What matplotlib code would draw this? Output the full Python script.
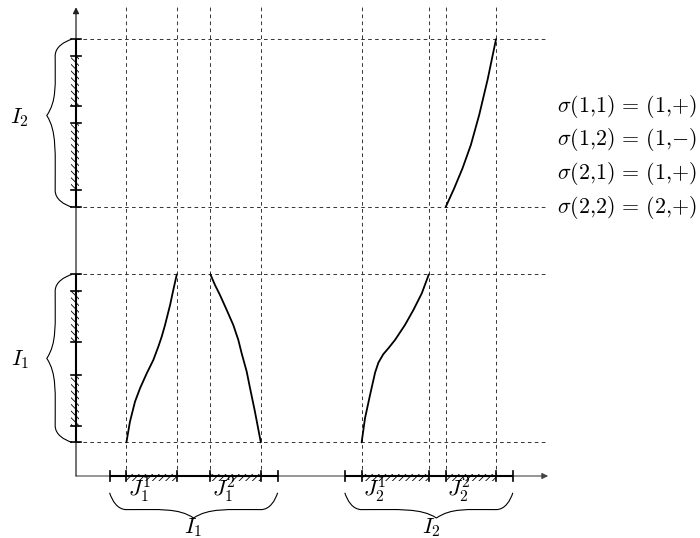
import matplotlib
matplotlib.use("Agg")
import matplotlib.pyplot as plt
from matplotlib.path import Path
from matplotlib.patches import PathPatch, Rectangle, FancyArrowPatch

plt.rcParams['mathtext.fontset'] = 'cm'
plt.rcParams['hatch.linewidth'] = 0.6
plt.rcParams['lines.scale_dashes'] = False

# ---- data ----
big_intervals = [(2, 12), (16, 26)]               # I_1, I_2
big_labels = [r'$I_1$', r'$I_2$']
brace_tip = [7.0, 21.45]                          # where the brace points
sub_intervals = [(3, 6), (8, 11), (17, 21), (22, 25)]   # J_1^1, J_1^2, J_2^1, J_2^2
sub_labels = [r'$J_1^1$', r'$J_1^2$', r'$J_2^1$', r'$J_2^2$']

c11_x = [3.0, 3.21, 3.51, 3.81, 4.21, 4.60, 4.90, 5.10, 5.30, 5.60, 5.79, 6.0]
c11_y = [2.0, 3.23, 4.42, 5.22, 6.11, 6.90, 7.70, 8.29, 8.99, 10.18, 11.07, 12.0]
c12_x = [8.0, 8.27, 8.57, 8.97, 9.36, 9.66, 9.86, 10.16, 10.36, 10.65, 11.0]
c12_y = [12.0, 11.37, 10.77, 9.88, 8.99, 8.10, 7.30, 6.21, 5.22, 3.83, 2.0]
c21_x = [17.0, 17.20, 17.50, 17.80, 18.0, 18.29, 18.59, 18.99, 19.58, 20.08, 20.58, 21.0]
c21_y = [2.0, 3.43, 4.82, 6.15, 6.75, 7.25, 7.60, 8.10, 8.99, 9.88, 10.87, 12.0]
c22_x = [22.0, 22.5, 23.0, 23.5, 24.0, 24.5, 25.0]
c22_y = [16.0, 17.1, 18.3, 19.7, 21.5, 23.6, 26.0]

sigma_labels = [r'$\sigma(1{,}1)\,=\,(1{,}{+})$', r'$\sigma(1{,}2)\,=\,(1{,}{-})$',
                r'$\sigma(2{,}1)\,=\,(1{,}{+})$', r'$\sigma(2{,}2)\,=\,(2{,}{+})$']
sigma_y = [22, 20, 18, 16]

# ---- figure ----
fig = plt.figure(figsize=(7.0, 5.38), dpi=100)
ax = fig.add_axes([0, 0, 1, 1])
ax.set_xlim(-4.524, 37.14)
ax.set_ylim(-3.69, 28.33)
ax.axis('off')

dash = (0, (2.6, 2.4))
dcol = '#333333'

# dashed grid
for (a, b) in sub_intervals:
    for x in (a, b):
        ax.plot([x, x], [0, 27.9], ls=dash, color=dcol, lw=0.7, zorder=1)
for (a, b) in big_intervals:
    for y in (a, b):
        ax.plot([0, 27.9], [y, y], ls=dash, color=dcol, lw=0.7, zorder=1)

# axes
ax.add_patch(FancyArrowPatch((0, 0), (28.1, 0), arrowstyle='-|>', mutation_scale=9,
                             color='#444444', lw=0.8, shrinkA=0, shrinkB=0, zorder=3))
ax.add_patch(FancyArrowPatch((0, 0), (0, 27.9), arrowstyle='-|>', mutation_scale=9,
                             color='#222222', lw=0.9, shrinkA=0, shrinkB=0, zorder=3))

for (a, b) in big_intervals:
    ax.plot([a, b], [0, 0], color='black', lw=1.5, zorder=4, solid_capstyle='butt')
    ax.plot([0, 0], [a, b], color='black', lw=1.5, zorder=4, solid_capstyle='butt')

# hatched sub-intervals
for (a, b) in sub_intervals:
    ax.add_patch(Rectangle((a, -0.28), b - a, 0.42, fill=False, hatch='/////',
                           edgecolor='black', lw=0, zorder=3))
    ax.add_patch(Rectangle((-0.3, a), 0.5, b - a, fill=False, hatch='\\\\\\\\\\',
                           edgecolor='black', lw=0, zorder=3))

# ticks
ticks = sorted({v for iv in big_intervals + sub_intervals for v in iv})
for t in ticks:
    ax.plot([t, t], [-0.3, 0.3], color='black', lw=1.2, zorder=5)
    ax.plot([-0.3, 0.3], [t, t], color='black', lw=1.2, zorder=5)

# curves
for xs, ys in [(c11_x, c11_y), (c12_x, c12_y), (c21_x, c21_y), (c22_x, c22_y)]:
    ax.plot(xs, ys, color='black', lw=1.3, zorder=6, solid_capstyle='round',
            solid_joinstyle='round')


def brace_path(L, m, h=1.0, D=1.5, bend=1.0):
    pts = [(0, 0), (0.15, 0.45), (0.45, h), (bend, h),
           ((bend + m) / 2, h), (m - 0.9, 0.9), (m, D),
           (m + 0.9, 0.9), ((L - bend + m) / 2, h), (L - bend, h),
           (L - 0.45, h), (L - 0.15, 0.45), (L, 0)]
    codes = [Path.MOVETO] + [Path.CURVE4] * 12
    return pts, codes


for (a, b), tip, lab in zip(big_intervals, brace_tip, big_labels):
    L = b - a
    pts, codes = brace_path(L, tip - a)
    # bottom brace
    bp = [(a + u, -1.0 - v) for (u, v) in pts]
    ax.add_patch(PathPatch(Path(bp, codes), fill=False, lw=0.8, color='black'))
    # left brace
    lp = [(-0.24 - v, a + u) for (u, v) in pts]
    ax.add_patch(PathPatch(Path(lp, codes), fill=False, lw=0.8, color='black'))
    ax.text((a + b) / 2 + (tip - (a + b) / 2) * 0.3, -3.1, lab, fontsize=16,
            ha='center', va='center')
    ax.text(-3.35, tip - 0.1, lab, fontsize=16, ha='center', va='center')

for (a, b), lab in zip(sub_intervals, sub_labels):
    ax.text(a + 0.8, -0.8, lab, fontsize=16, ha='center', va='center')

for lab, y in zip(sigma_labels, sigma_y):
    ax.text(28.63, y, lab, fontsize=15.8, ha='left', va='center')

fig.savefig('out.png', dpi=100)
